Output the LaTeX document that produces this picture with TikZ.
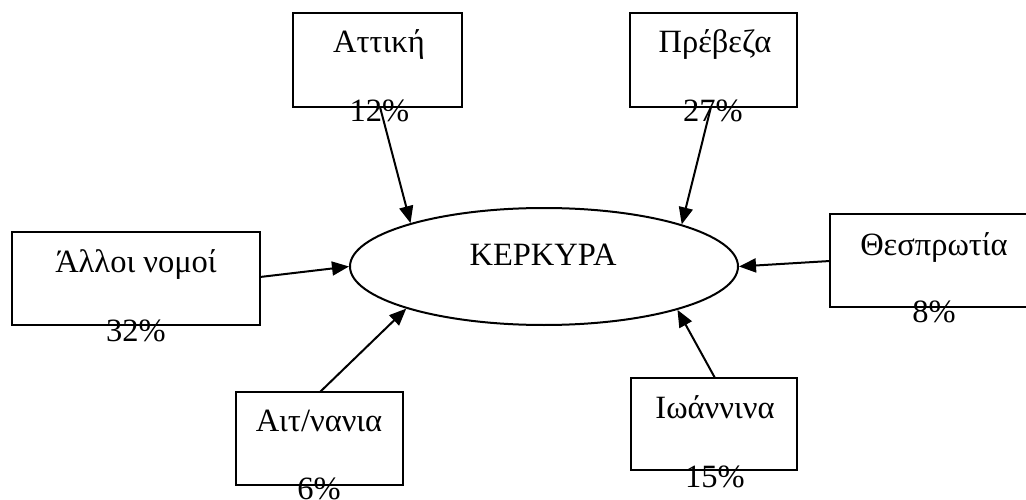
\documentclass[tikz,border=0pt]{standalone}
\usepackage{fontspec}
\setmainfont{Liberation Serif}
\usetikzlibrary{shapes.geometric,arrows.meta}
\begin{document}
\begin{tikzpicture}[x=1pt,y=-1pt,
  box/.style={draw,line width=2pt,rectangle,inner sep=0pt,minimum height=94pt},
  lbl/.style={anchor=base,inner sep=0pt,font=\fontsize{32.5}{36}\selectfont},
  conn/.style={line width=2pt,-{Triangle[length=17pt,width=14pt]}}]
\useasboundingbox (0,0) rectangle (1026,500);
\clip (0,0) rectangle (1026,500);
% center ellipse
\node[draw,ellipse,line width=2pt,minimum width=388pt,minimum height=117pt,inner sep=0pt] (ker) at (544,266.5) {};
\node[lbl] (kert) at (543,265) {ΚΕΡΚΥΡΑ};
% boxes
\node[box,minimum width=169pt] (att) at (377.5,60) {};
\node[box,minimum width=167pt] (pre) at (713.5,60) {};
\node[box,minimum width=248pt,minimum height=93pt] (all) at (136,278.5) {};
\node[box,minimum width=210pt,minimum height=93pt] (the) at (935,260.5) {};
\node[box,minimum width=167pt,minimum height=93pt] (ait) at (319.5,438.5) {};
\node[box,minimum width=166pt,minimum height=92pt] (ioa) at (714,424) {};
% names
\node[lbl] (attn) at (379,53) {Αττική};
\node[lbl] (pren) at (715,53) {Πρέβεζα};
\node[lbl] (alln) at (136,272) {Άλλοι νομοί};
\node[lbl] (then) at (934,255) {Θεσπρωτία};
\node[lbl] (aitn) at (319,431) {Αιτ/νανια};
\node[lbl] (ioan) at (715,418) {Ιωάννινα};
% percentages
\node[lbl] (attp) at (379.5,122) {12\%};
\node[lbl] (prep) at (713,122) {27\%};
\node[lbl] (allp) at (136,341) {32\%};
\node[lbl] (thep) at (934,322) {8\%};
\node[lbl] (aitp) at (319,499) {6\%};
\node[lbl] (ioap) at (715,487) {15\%};
% connector start points on the boxes
\coordinate (attS) at (380,107);
\coordinate (preS) at (711,107);
\coordinate (allS) at (260,277);
\coordinate (theS) at (830,261);
\coordinate (aitS) at (320,392);
\coordinate (ioaS) at (715,378);
% connectors
\draw[conn] (attS) -- (ker.162.4);
\draw[conn] (preS) -- (ker.17.7);
\draw[conn] (allS) -- (ker.180);
\draw[conn] (theS) -- (ker.0);
\draw[conn] (aitS) -- (ker.197.4);
\draw[conn] (ioaS) -- (ker.342.5);
\end{tikzpicture}
\end{document}
